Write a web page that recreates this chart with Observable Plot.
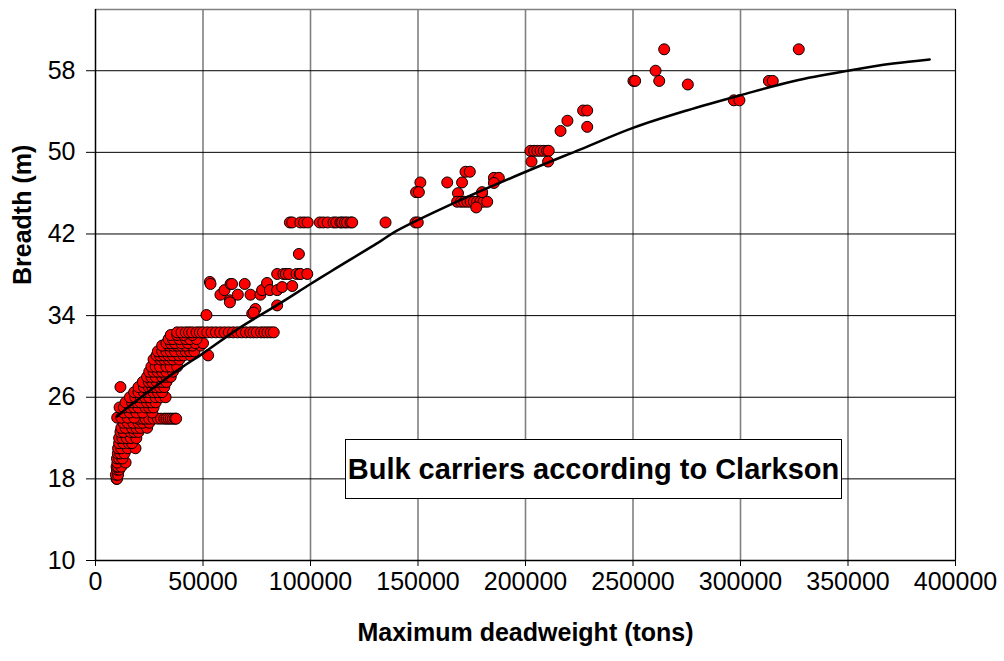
<!DOCTYPE html>
<html><head><meta charset="utf-8">
<script src="https://cdn.jsdelivr.net/npm/d3@7"></script>
<script src="https://cdn.jsdelivr.net/npm/@observablehq/plot@0.6"></script>
<style>
html,body{margin:0;padding:0;background:#fff;}
#wrap{position:relative;width:1004px;height:661px;}
#wrap svg{position:absolute;left:0;top:0;display:block;}
#note{position:absolute;left:345px;top:439px;width:497px;height:60px;box-sizing:border-box;border:1.5px solid #000;background:#fff;font:bold 29px "Liberation Sans",Arial,sans-serif;display:flex;align-items:center;justify-content:center;white-space:nowrap;z-index:2;}
</style></head><body>
<div id="wrap"><div id="note">Bulk carriers according to Clarkson</div></div>
<script>
// Scatter data: maximum deadweight (tons) and breadth (m)
const deadweight = [
 9800,10000,9500,10500,10000,11000,9800,10500,12000,10200,14000,10000,11000,12500,10400,11500,13500,
 10500,12000,15000,18600,11000,13000,15500,17000,11000,12500,14500,16500,19000,11600,13000,16300,18000,20000,
 12000,14000,17000,19000,21000,24000,13000,15000,17500,20000,22000,25000,
 20000,22000,23300,25000,27000,29000,30500,32000,33000,34000,35000,36000,37000,37500,
 10100,12000,15000,18000,13000,16000,19000,22000,26400,
 11200,13200,16000,18000,20000,23300,25000,27000,
 14000,17000,19400,21000,24000,26000,28000,
 16000,18500,21000,23000,25000,28000,30200,32600,
 18000,20000,22500,24800,27000,29000,31000,
 11600,20000,22500,24800,26400,28000,30000,32000,
 22000,24800,26400,28500,31000,33000,
 24000,26000,28000,31000,33000,35000,
 25000,27000,29000,31000,33000,36000,
 26000,28000,30000,33000,35000,38000,
 27000,30200,32000,34000,36000,39000,
 28400,30000,32000,34000,36000,38800,41000,44200,52400,
 29000,31000,33000,35000,37000,40000,42000,44000,46000,
 31000,34100,36000,38000,40000,42000,45000,48800,
 33000,35000,37000,40000,43000,46500,50000,
 34000,36000,39000,42000,44000,47000,
 35000,38000,41000,45000,
 38000,40000,42000,43500,45000,47000,48500,50000,52000,54000,56000,58000,60000,62000,64000,66000,68000,70000,72000,73500,75000,77000,78500,80000,81500,82900,
 51600,53200,53500,58100,60000,62500,62800,63500,66200,69400,72100,76700,77500,79800,81100,84500,86800,91500,
 62500,74400,72900,73600,84500,
 84500,87400,88500,90000,93500,95000,95300,98500,94600,
 90400,91500,95300,97000,98700,104300,106000,108000,110700,112000,113900,114700,116000,117000,118600,119400,134900,148800,149900,
 151100,149100,150400,163600,170500,172100,174100,168600,179800,185300,187600,185300,
 168200,170000,171500,173000,174500,176000,177500,179000,180500,182200,177100,179800,
 202300,204000,205500,207000,208500,210000,210800,202800,210500,216300,219500,
 226800,228700,228700,250200,251000,264500,260500,262200,275500,296900,299500,313200,315000,327100
];
const breadth = [
 18.0,18.0,18.4,18.4,18.9,18.9,19.2,19.2,19.2,19.6,19.6,20.0,20.0,20.0,20.5,20.5,20.5,
 21.0,21.0,21.0,21.0,21.5,21.5,21.5,21.5,22.0,22.0,22.0,22.0,22.0,22.6,22.6,22.6,22.6,22.6,
 23.0,23.0,23.0,23.0,23.0,23.0,23.5,23.5,23.5,23.5,23.5,23.5,
 23.9,23.9,23.9,23.9,23.9,23.9,23.9,23.9,23.9,23.9,23.9,23.9,23.9,23.9,
 24.0,24.0,24.0,24.0,24.5,24.5,24.5,24.5,24.5,
 25.0,25.0,25.0,25.0,25.0,25.0,25.0,25.0,
 25.5,25.5,25.5,25.5,25.5,25.5,25.5,
 26.0,26.0,26.0,26.0,26.0,26.0,26.0,26.0,
 26.5,26.5,26.5,26.5,26.5,26.5,26.5,
 27.0,27.0,27.0,27.0,27.0,27.0,27.0,27.0,
 27.5,27.5,27.5,27.5,27.5,27.5,
 28.0,28.0,28.0,28.0,28.0,28.0,
 28.5,28.5,28.5,28.5,28.5,28.5,
 29.0,29.0,29.0,29.0,29.0,29.0,
 29.7,29.7,29.7,29.7,29.7,29.7,
 30.1,30.1,30.1,30.1,30.1,30.1,30.1,30.1,30.1,
 30.5,30.5,30.5,30.5,30.5,30.5,30.5,30.5,30.5,
 31.06,31.06,31.06,31.06,31.06,31.06,31.06,31.06,
 31.3,31.3,31.3,31.3,31.3,31.3,31.3,
 31.7,31.7,31.7,31.7,31.7,31.7,
 32.1,32.1,32.1,32.1,
 32.36,32.36,32.36,32.36,32.36,32.36,32.36,32.36,32.36,32.36,32.36,32.36,32.36,32.36,32.36,32.36,32.36,32.36,32.36,32.36,32.36,32.36,32.36,32.36,32.36,32.36,
 34.06,37.3,37.1,36.05,36.5,35.5,37.1,37.1,36.05,37.1,36.05,36.05,36.5,37.2,36.5,36.5,36.8,36.9,
 35.3,34.65,34.2,34.3,35.0,
 38.08,38.08,38.08,38.08,38.08,38.08,38.08,38.08,40.04,
 43.13,43.13,43.13,43.13,43.13,43.13,43.13,43.13,43.13,43.13,43.13,43.13,43.13,43.13,43.13,43.13,43.13,43.13,43.13,
 47.05,46.1,46.1,47.05,47.05,48.1,48.1,46.0,46.0,47.5,47.5,47.0,
 45.16,45.16,45.16,45.16,45.16,45.16,45.16,45.16,45.16,45.16,44.6,46.1,
 50.15,50.15,50.15,50.15,50.15,50.15,50.15,49.1,49.1,52.1,53.1,
 54.1,54.1,52.5,57.0,57.0,60.1,58.0,57.0,56.65,55.1,55.1,57.0,57.0,60.1
];
// Trend line
const trendDwt =     [10000,15000,20000,30000,40000,50000,67000,85000,100000,110000,132600,140000,167400,199000,225600,250000,275000,300000,325000,350000,371000,388000];
const trendBreadth = [24.1, 25.0, 25.8, 27.4, 28.9, 30.3, 32.8, 35.1, 37.1,  38.4,  41.3,  42.3,  45.1,  48.0,  50.3,  52.4,  54.1,  55.6,  57.0,  58.0,  58.7,  59.1];
// Axes
const xTicks = [0,50000,100000,150000,200000,250000,300000,350000,400000];
const yTicks = [10,18,26,34,42,50,58];
const xDomain = [0,400000];
const yDomain = [10,64];

const points = deadweight.map((d,i)=>({dwt:d, b:breadth[i]}));
const trend = trendDwt.map((d,i)=>({dwt:d, b:trendBreadth[i]}));

const chart = Plot.plot({
  width:1004, height:661,
  marginLeft:95, marginRight:49, marginTop:9, marginBottom:101,
  style:{fontFamily:'"Liberation Sans", Arial, sans-serif', fontSize:"25px", color:"#000", background:"#fff"},
  x:{domain:xDomain},
  y:{domain:yDomain},
  marks:[
    Plot.ruleX(xTicks.slice(1,-1), {stroke:"#808080", strokeWidth:1.6}),
    Plot.ruleY(yTicks.slice(1), {stroke:"#000", strokeWidth:1}),
    Plot.ruleY([yDomain[1]], {stroke:"#808080", strokeWidth:1.6}),
    Plot.ruleX([xDomain[1]], {stroke:"#000", strokeWidth:1.2}),
    Plot.ruleX([xDomain[0]], {stroke:"#000", strokeWidth:1.5}),
    Plot.ruleY([yDomain[0]], {stroke:"#000", strokeWidth:1.5}),
    Plot.axisX(xTicks, {tickSize:6, tickPadding:6, tickFormat:d=>String(d), label:null, fontSize:25}),
    Plot.axisY(yTicks, {tickSize:9, tickPadding:11, label:null, fontSize:25}),
    Plot.dot(points, {x:"dwt", y:"b", r:5.5, fill:"#ff0000", stroke:"#000", strokeWidth:1}),
    Plot.line(trend, {x:"dwt", y:"b", stroke:"#000", strokeWidth:2.5, curve:"catmull-rom"}),
    Plot.text(["Breadth (m)"], {text:d=>d, frameAnchor:"left", dx:-73, rotate:-90, fontWeight:"bold", fontSize:25}),
    Plot.text(["Maximum deadweight (tons)"], {text:d=>d, frameAnchor:"bottom", dy:80, fontWeight:"bold", fontSize:25})
  ]
});
document.getElementById("wrap").prepend(chart);
</script>
</body></html>
